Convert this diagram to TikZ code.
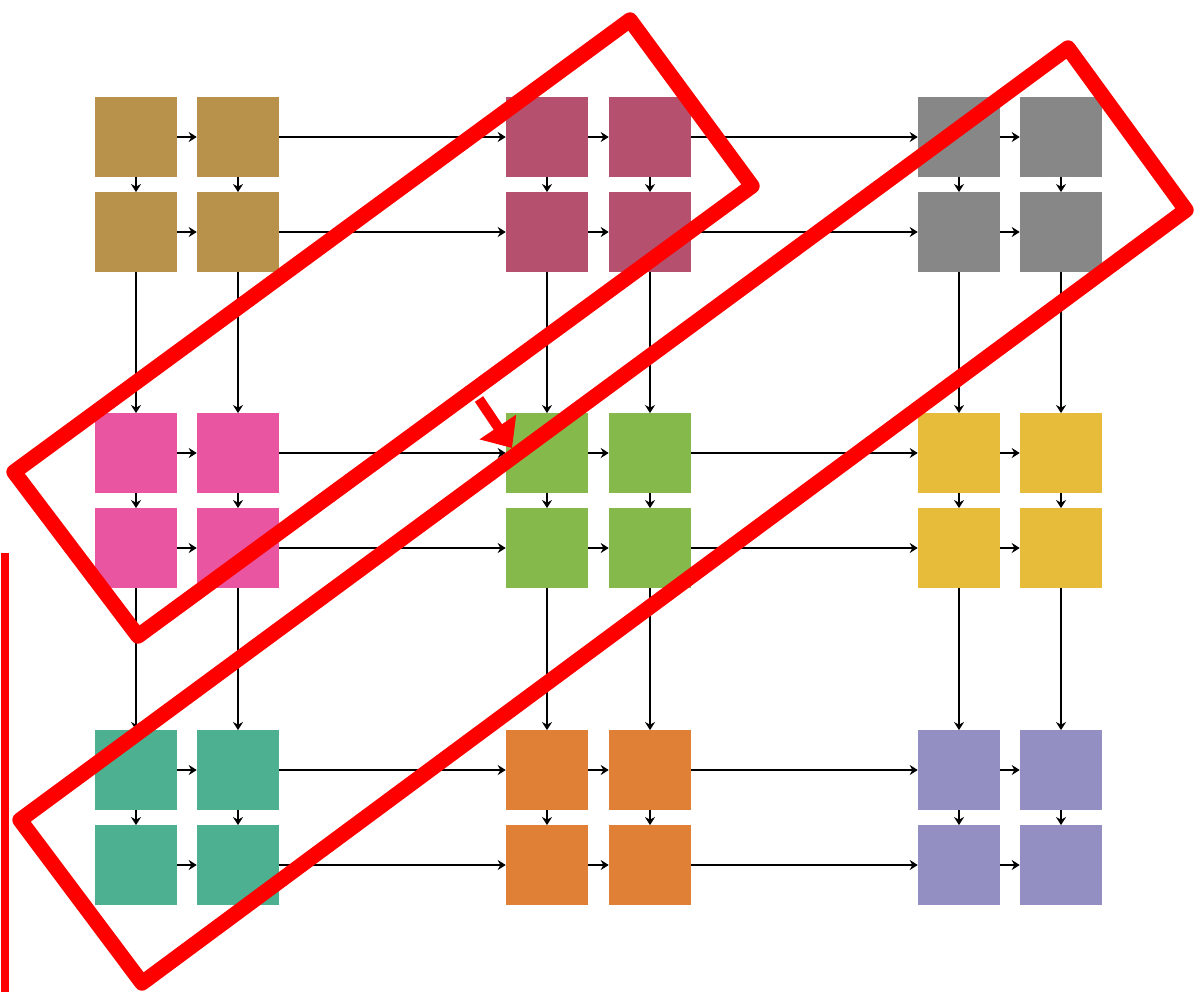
\documentclass[tikz,border=0pt]{standalone}
\usepackage{xcolor}
\usepackage{tikz}
\usetikzlibrary{arrows.meta}
\definecolor{blk0}{RGB}{184,146,75}
\definecolor{blk1}{RGB}{181,81,110}
\definecolor{blk2}{RGB}{135,135,135}
\definecolor{blk3}{RGB}{234,85,161}
\definecolor{blk4}{RGB}{134,185,75}
\definecolor{blk5}{RGB}{232,188,59}
\definecolor{blk6}{RGB}{76,176,145}
\definecolor{blk7}{RGB}{224,127,54}
\definecolor{blk8}{RGB}{148,143,195}
\definecolor{HiRed}{RGB}{255,0,0}

\begin{document}
\begin{tikzpicture}[
  x=0.75pt, y=-0.75pt,
  cell/.style={inner sep=0pt, minimum width=61.5pt, minimum height=59.5pt},
  line/.style={-{Stealth[length=6pt, width=7.5pt]}, line width=1.9pt, draw=black},
  hilite/.style={draw=HiRed, line width=11.5pt, line join=round}
]
\useasboundingbox (0,0) rectangle (1194,992);

% cells of the 3x3 blocks
\foreach \x [count=\i from 0] in {136,238,547,650,959,1061} {
  \foreach \y [count=\j from 0] in {137,232,453,548,770,865} {
    \pgfmathtruncatemacro\b{3*int(\j/2)+int(\i/2)}
    \node[cell, fill=blk\b] (c-\i-\j) at (\x,\y) {};
  }
}

% connectors
\foreach \i [evaluate=\i as \k using int(\i+1)] in {0,...,4} {
  \foreach \j in {0,...,5} {
    \draw[line] (c-\i-\j) -- (c-\k-\j);
    \draw[line] (c-\j-\i) -- (c-\j-\k);
  }
}

% highlights
\draw[hilite] (630,20) -- (752,186) -- (138,636) -- (14,472) -- cycle;
\draw[hilite] (1068,48) -- (1186,210) -- (142,983) -- (20,820) -- cycle;
\draw[HiRed, line width=6pt] (5,553) -- (5,992);
\coordinate (ptr-tail) at (479,399);
\coordinate (ptr-tip) at (512,448);
\draw[HiRed, line width=7.5pt, -{Triangle[length=19pt, width=32pt]}] (ptr-tail) -- (ptr-tip);
\end{tikzpicture}
\end{document}
